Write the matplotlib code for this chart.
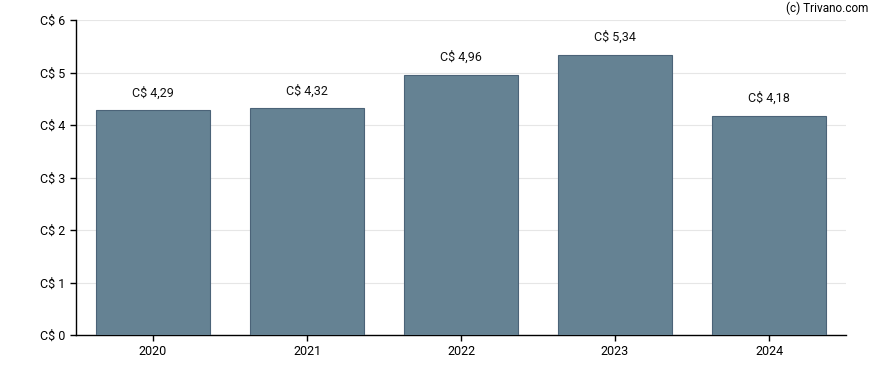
import matplotlib
matplotlib.use("Agg")
import matplotlib.pyplot as plt

# Données
years = ["2020", "2021", "2022", "2023", "2024"]
values = [4.29, 4.32, 4.96, 5.34, 4.18]
yticks = [0, 1, 2, 3, 4, 5, 6]

plt.rcParams['font.family'] = ['Roboto', 'DejaVu Sans']
plt.rcParams['font.size'] = 9

fig = plt.figure(figsize=(8.88, 3.7), dpi=100)
ax = fig.add_axes([76 / 888, 35 / 370, 770 / 888, 315 / 370])

x = range(len(years))
ax.bar(x, values, width=0.74, color="#658293", edgecolor="#4b6378", linewidth=0.8, zorder=3)

# Étiquettes au-dessus des barres
for i, v in zip(x, values):
    ax.text(i, v + 0.2, "C$ " + f"{v:.2f}".replace(".", ","), ha="center", va="bottom",
            fontsize=9, color="#111111")

ax.set_xlim(-0.5, len(years) - 0.5)
ax.set_ylim(0, 6)
ax.set_xticks(list(x))
ax.set_xticklabels(years)
ax.set_yticks(yticks)
ax.set_yticklabels([f"C$ {t}" for t in yticks])
ax.tick_params(axis="both", labelsize=9, length=4, width=1, colors="#000000")
ax.grid(axis="y", color="#e6e6e6", linewidth=0.8, zorder=0)

for s in ["top", "right"]:
    ax.spines[s].set_visible(False)
for s in ["left", "bottom"]:
    ax.spines[s].set_linewidth(1)

fig.text(868 / 888, 1 - 8 / 370, "(c) Trivano.com", ha="right", va="center", fontsize=8.5)

fig.savefig("out.png", dpi=100)
